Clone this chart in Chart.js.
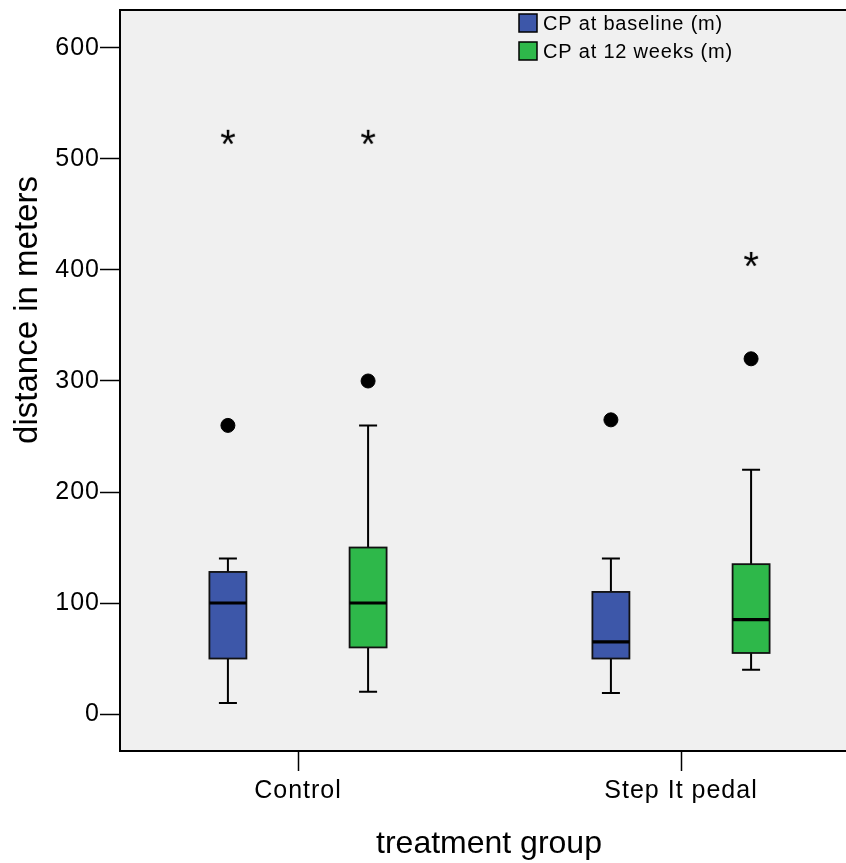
<!DOCTYPE html>
<html>
<head>
<meta charset="utf-8">
<script src="https://cdn.jsdelivr.net/npm/chart.js@4.4.0/dist/chart.umd.min.js"></script>
<style>
  html, body { margin: 0; padding: 0; background: #ffffff; overflow: hidden; }
  #chart { display: block; }
</style>
</head>
<body>
<canvas id="chart" width="846" height="863"></canvas>
<script>
// groups on the x axis
var categories = ['Control', 'Step It pedal'];
var seriesNames = ['CP at baseline (m)', 'CP at 12 weeks (m)'];
var seriesColors = ['#3d57a9', '#2eb84a'];

// box summaries per group (metres)
var baseMin    = [10, 19];
var baseQ1     = [50, 50];
var baseMedian = [100, 65];
var baseQ3     = [128, 110];
var baseMax    = [140, 140];

var wk12Min    = [20, 40];
var wk12Q1     = [60, 55];
var wk12Median = [100, 85];
var wk12Q3     = [150, 135];
var wk12Max    = [260, 220];

// outliers (circles) and extremes (stars)
var baseOutliers = [[260], [265]];
var wk12Outliers = [[300], [320]];
var baseExtremes = [[520], []];
var wk12Extremes = [[520], [410]];

var yTicks = [0, 100, 200, 300, 400, 500, 600];

var FONT = '"Liberation Sans", Arial, sans-serif';

var boxes = [
  { min: baseMin, q1: baseQ1, med: baseMedian, q3: baseQ3, max: baseMax },
  { min: wk12Min, q1: wk12Q1, med: wk12Median, q3: wk12Q3, max: wk12Max }
];
var shift = [-0.183, 0.183];
var xUnitPx = 383;   // pixels between the two groups
var firstTickPx = 178; // first group's distance from the y axis

function points(list, s){
  var out = [];
  for (var g = 0; g < list.length; g++){
    for (var k = 0; k < list[g].length; k++){
      out.push({ x: g + 1 + shift[s], y: list[g][k] });
    }
  }
  return out;
}

// asterisk marker for extreme values
var star = document.createElement('canvas');
star.width = 28; star.height = 28;
(function(){
  var c = star.getContext('2d');
  c.fillStyle = '#000';
  c.font = '40px ' + FONT;
  c.textAlign = 'center';
  c.textBaseline = 'alphabetic';
  c.fillText('*', 14, 35);
})();

function noPad(scale){
  scale.paddingTop = 0; scale.paddingBottom = 0;
  scale.paddingLeft = 0; scale.paddingRight = 0;
}

var boxPlugin = {
  id: 'boxes',
  beforeDraw: function(chart){
    var a = chart.chartArea, c = chart.ctx;
    c.save();
    c.fillStyle = '#f0f0f0';
    c.fillRect(a.left, a.top, chart.width - a.left, a.bottom - a.top);
    c.restore();
    c.letterSpacing = '1px';
  },
  beforeDatasetsDraw: function(chart){
    var c = chart.ctx, xs = chart.scales.x, ys = chart.scales.y;
    var half = 18.5, cap = 9;
    c.save();
    for (var s = 0; s < boxes.length; s++){
      var b = boxes[s];
      for (var g = 0; g < categories.length; g++){
        var cx = xs.getPixelForValue(g + 1 + shift[s]);
        var yMin = ys.getPixelForValue(b.min[g]);
        var yQ1 = ys.getPixelForValue(b.q1[g]);
        var yMed = ys.getPixelForValue(b.med[g]);
        var yQ3 = ys.getPixelForValue(b.q3[g]);
        var yMax = ys.getPixelForValue(b.max[g]);
        c.strokeStyle = '#000';
        c.lineWidth = 2;
        c.beginPath();
        c.moveTo(cx, yMin); c.lineTo(cx, yQ1);
        c.moveTo(cx, yQ3); c.lineTo(cx, yMax);
        c.moveTo(cx - cap, yMin); c.lineTo(cx + cap, yMin);
        c.moveTo(cx - cap, yMax); c.lineTo(cx + cap, yMax);
        c.stroke();
        c.fillStyle = seriesColors[s];
        c.fillRect(cx - half, yQ3, half * 2, yQ1 - yQ3);
        c.lineWidth = 1.8;
        c.strokeStyle = '#111';
        c.strokeRect(cx - half, yQ3, half * 2, yQ1 - yQ3);
        c.lineWidth = 3.2;
        c.strokeStyle = '#000';
        c.beginPath();
        c.moveTo(cx - half, yMed); c.lineTo(cx + half, yMed);
        c.stroke();
      }
    }
    c.restore();
  },
  afterDraw: function(chart){
    var a = chart.chartArea, c = chart.ctx;
    c.save();
    c.strokeStyle = '#000';
    c.lineWidth = 2;
    c.beginPath();
    c.moveTo(a.left, a.top); c.lineTo(chart.width, a.top);
    c.moveTo(a.left, a.bottom); c.lineTo(chart.width, a.bottom);
    c.stroke();

    // axis titles
    c.fillStyle = '#000';
    c.letterSpacing = '0px';
    c.textAlign = 'center';
    c.textBaseline = 'alphabetic';
    c.font = '32px ' + FONT;
    c.fillText('treatment group', 489, 853);
    c.save();
    c.translate(37, 310);
    c.rotate(-Math.PI / 2);
    c.font = '33px ' + FONT;
    c.fillText('distance in meters', 0, 0);
    c.restore();

    // legend
    c.font = '20px ' + FONT;
    c.letterSpacing = '0.8px';
    c.textAlign = 'left';
    c.textBaseline = 'middle';
    for (var s = 0; s < seriesNames.length; s++){
      var y = 14 + s * 28;
      c.fillStyle = seriesColors[s];
      c.fillRect(519, y, 18, 18);
      c.lineWidth = 1.5;
      c.strokeStyle = '#000';
      c.strokeRect(519, y, 18, 18);
      c.fillStyle = '#000';
      c.fillText(seriesNames[s], 543, y + 10);
    }
    c.restore();
  }
};

var ctx = document.getElementById('chart');
var myChart = new Chart(ctx, {
  type: 'scatter',
  data: {
    datasets: [
      { data: points(baseOutliers, 0), pointStyle: 'circle', pointRadius: 7, backgroundColor: '#000', borderColor: '#000' },
      { data: points(wk12Outliers, 1), pointStyle: 'circle', pointRadius: 7, backgroundColor: '#000', borderColor: '#000' },
      { data: points(baseExtremes, 0), pointStyle: star },
      { data: points(wk12Extremes, 1), pointStyle: star }
    ]
  },
  options: {
    responsive: false,
    animation: false,
    layout: { padding: { top: 10, right: 0, left: 0, bottom: 0 } },
    plugins: { legend: { display: false }, tooltip: { enabled: false } },
    scales: {
      x: {
        type: 'linear',
        min: 0.5352,
        max: 2.4308,
        afterBuildTicks: function(scale){ scale.ticks = [{ value: 1 }, { value: 2 }]; },
        afterFit: function(scale){ scale.height = 112; noPad(scale); },
        ticks: {
          color: '#000',
          padding: 5,
          font: { family: FONT, size: 25 },
          callback: function(v){ return categories[v - 1]; }
        },
        grid: { drawOnChartArea: false, tickLength: 20, color: '#000', tickWidth: 1.5 },
        border: { display: false }
      },
      y: {
        min: -33.3,
        max: 634.2,
        afterBuildTicks: function(scale){ scale.ticks = yTicks.map(function(v){ return { value: v }; }); },
        afterFit: function(scale){ scale.width = 120; noPad(scale); },
        ticks: {
          color: '#000',
          padding: 0,
          font: { family: FONT, size: 25 }
        },
        grid: { drawOnChartArea: false, tickLength: 20, color: '#000', tickWidth: 1.5 },
        border: { display: true, color: '#000', width: 2 }
      }
    }
  },
  plugins: [boxPlugin]
});

// fit the x range to the laid-out area so the groups sit 383px apart
var area = myChart.chartArea;
var xMin = 1 - firstTickPx / xUnitPx;
myChart.options.scales.x.min = xMin;
myChart.options.scales.x.max = xMin + (area.right - area.left) / xUnitPx;
myChart.update();
</script>
</body>
</html>
